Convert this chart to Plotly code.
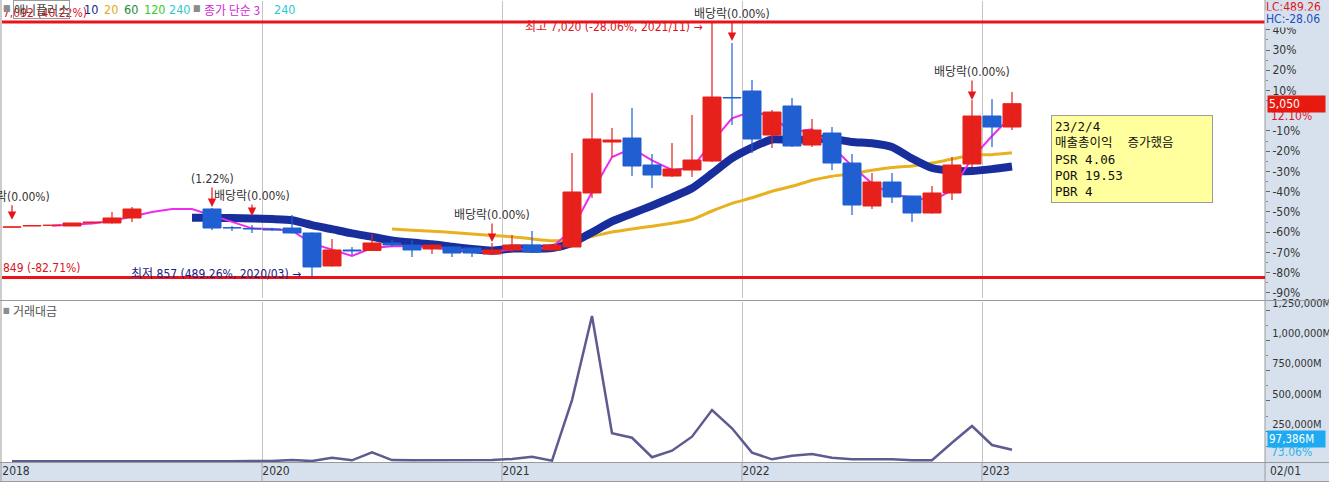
import pandas as pd
import plotly.graph_objects as go

# ---------------- data (monthly candles, 2018/12 .. 2023/02) ----------------
months = pd.date_range("2018-12-01", periods=51, freq="MS").strftime("%Y/%m").tolist()

open_p = [2070, 2100, 2115, 2100, 2180, 2172, 2293, None, None, None,
          2510, 2060, 2040, 2027, 2051, 1931, 1135, 1521, 1510, 1690,
          1641, 1545, 1593, 1569, 1424, 1521, 1641, 1521, 1593, 2896,
          4126, 4222, 3571, 3305, 3450, 3667, 5200, 5356, 4294, 4994,
          4053, 4343, 3619, 2582, 3161, 2823, 2413, 2896, 3595, 4753,
          4487]
high_p = [2080, 2115, 2120, 2180, 2200, 2437, 2558, None, None, None,
          2534, 2100, 2124, 2060, 2365, 1945, 1786, 1593, 1906, 1762,
          1762, 1650, 1600, 1569, 1690, 1882, 1979, 1660, 3860, 5307,
          4463, 4945, 3836, 4102, 4777, 7020, 6514, 5621, 4897, 5187,
          4680, 4487, 3836, 3378, 3378, 2830, 3064, 3764, 5139, 5163,
          5331]
low_p = [2070, 2095, 2112, 2095, 2175, 2160, 2196, None, None, None,
         2003, 1979, 1931, 1979, 1920, 857, 1120, 1400, 1497, 1593,
         1352, 1424, 1352, 1352, 1400, 1448, 1448, 1510, 1593, 2775,
         3764, 3305, 3016, 3281, 3281, 3643, 4536, 3860, 3981, 4005,
         4005, 3450, 2365, 2510, 2655, 2196, 2400, 2727, 3523, 4005,
         4415]
close_p = [2080, 2110, 2120, 2172, 2196, 2293, 2510, 2510, 2510, 2510,
           2051, 2051, 2027, 2003, 1931, 1111, 1521, 1497, 1690, 1641,
           1521, 1641, 1448, 1448, 1521, 1641, 1472, 1641, 2920, 4198,
           4174, 3547, 3330, 3474, 3691, 5211, 5187, 4198, 4849, 4029,
           4415, 3619, 2606, 3161, 2799, 2413, 2896, 3571, 4753, 4487,
           5050]
# 거래대금 (백만원)
value_m = [3000, 2500, 2000, 2500, 3000, 4000, 5000, 0, 0, 0,
           4000, 3000, 3500, 4000, 12000, 4000, 31000, 10000, 76000, 12000,
           10000, 9000, 11000, 12000, 12000, 21000, 40000, 7000, 507000, 1200000,
           233000, 196000, 35000, 89000, 205000, 425000, 274000, 73000, 18000, 48000,
           62000, 31000, 18000, 18000, 18000, 10000, 10000, 155000, 293000, 136000,
           97386]

year_labels = ["2018", "2020", "2021", "2022", "2023"]
pct_labels = [40, 30, 20, 10, -10, -20, -30, -40, -50, -60, -70, -80, -90]
pct_base = 4880
vol_tick_vals = [250000, 500000, 750000, 1000000, 1250000]

div_idx = [0, 10, 12, 24, 36, 48]
div_text = ["배당락(0.00%)", "(1.22%)", "배당락(0.00%)", "배당락(0.00%)",
            "배당락(0.00%)", "배당락(0.00%)"]

note_lines = ["23/2/4", "매출총이익  증가했음", "PSR 4.06", "POR 19.53", "PBR 4"]

# ---------------- geometry helpers ----------------
W, H = 1329, 482
ML, MR, MT, MB = 2, 64, 1, 20
PW, PH = W - ML - MR, H - MT - MB


def fx(px):
    return (px - ML) / PW


def fy(py):
    return (H - MB - py) / PH


KR = "Noto Sans CJK KR, sans-serif"
NUM = "Liberation Sans Narrow, DejaVu Sans Condensed, Noto Sans CJK KR, Liberation Sans, sans-serif"
RED = "#e6201a"
BLUE = "#1f5fd1"
PANEL = "#d7e1ee"
GRID = "#c4c4c4"

x_idx = list(range(len(months)))
s_close = pd.Series(close_p, dtype=float)
ma3 = s_close.rolling(3).mean()
ma10 = s_close.rolling(10).mean()
ma20 = s_close.rolling(20).mean()

x_range = [-0.5, 62.65]
y_range = [363, 7527]
vol_range = [-4100, 1316000]

year_pos = [next(i for i, m in enumerate(months) if m.startswith(y)) - 0.5 for y in year_labels]
pct_vals = [pct_base * (1 + p / 100) for p in pct_labels]
pct_text = [f"{p}%" for p in pct_labels]
pct_minor = [pct_base * (1 + (p - 5) / 100) for p in pct_labels] + [pct_base * 1.45]

max_high = max(h for h in high_p if h is not None)
min_low = min(v for v in low_p if v is not None)
i_max = high_p.index(max_high)
i_min = low_p.index(min_low)
last = close_p[-1]

fig = go.Figure()

# moving averages (base subplot, beneath candles)
fig.add_trace(go.Scatter(x=x_idx, y=ma20, mode="lines", hoverinfo="skip",
                         line=dict(color="#e8b120", width=3, shape="spline", smoothing=0.6),
                         xaxis="x", yaxis="y"))
fig.add_trace(go.Scatter(x=x_idx, y=ma10, mode="lines", hoverinfo="skip",
                         line=dict(color="#182e9c", width=8, shape="spline", smoothing=0.6),
                         xaxis="x", yaxis="y"))
fig.add_trace(go.Scatter(x=x_idx, y=ma3, mode="lines", hoverinfo="skip",
                         line=dict(color="#ee2cee", width=2),
                         xaxis="x", yaxis="y"))

# candles (overlay subplot, above the averages)
up = [i for i in x_idx if open_p[i] is not None and close_p[i] >= open_p[i]]
dn = [i for i in x_idx if open_p[i] is not None and close_p[i] < open_p[i]]
for grp, col in ((up, RED), (dn, BLUE)):
    wx, wy = [], []
    for i in grp:
        wx += [i, i, None]
        wy += [low_p[i], high_p[i], None]
    fig.add_trace(go.Bar(x=grp, y=[abs(close_p[i] - open_p[i]) for i in grp],
                         base=[min(open_p[i], close_p[i]) for i in grp], width=0.9,
                         marker=dict(color=col, line=dict(color=col, width=1)),
                         hoverinfo="skip", xaxis="x", yaxis="y3"))
    fig.add_trace(go.Scatter(x=wx, y=wy, mode="lines", hoverinfo="skip",
                             line=dict(color=col, width=1.2), xaxis="x", yaxis="y3"))

# trading value
fig.add_trace(go.Scatter(x=x_idx, y=value_m, mode="lines", hoverinfo="skip",
                         line=dict(color="#5d5b8f", width=2.5), xaxis="x2", yaxis="y2"))

shapes = [
    dict(type="rect", xref="paper", yref="paper", x0=fx(1265), x1=fx(1340), y0=fy(490), y1=fy(-5),
         fillcolor=PANEL, line=dict(width=0), layer="below"),
    dict(type="rect", xref="paper", yref="paper", x0=fx(-5), x1=fx(1340), y0=fy(490), y1=fy(463),
         fillcolor=PANEL, line=dict(width=0), layer="below"),
    dict(type="line", xref="paper", yref="paper", x0=fx(0), x1=fx(1340), y0=fy(300.5), y1=fy(300.5),
         line=dict(color="#9a9a9a", width=1)),
    dict(type="line", xref="paper", yref="paper", x0=fx(0), x1=fx(1340), y0=fy(462.5), y1=fy(462.5),
         line=dict(color="#9a9a9a", width=1)),
    dict(type="line", xref="paper", yref="paper", x0=fx(0), x1=fx(1340), y0=fy(481.5), y1=fy(481.5),
         line=dict(color="#9a9a9a", width=1)),
    dict(type="line", xref="paper", yref="paper", x0=fx(1265), x1=fx(1265), y0=fy(490), y1=fy(-5),
         line=dict(color="#9a9a9a", width=1)),
    dict(type="line", xref="paper", yref="paper", x0=fx(1), x1=fx(1), y0=fy(490), y1=fy(-5),
         line=dict(color="#9a9a9a", width=1)),
    dict(type="line", xref="paper", yref="y", x0=0, x1=1, y0=max_high, y1=max_high,
         line=dict(color="#e8141a", width=3)),
    dict(type="line", xref="paper", yref="y", x0=0, x1=1, y0=min_low, y1=min_low,
         line=dict(color="#e8141a", width=3)),
]
# year separators continuing through the date strip
for p in year_pos[1:]:
    shapes.append(dict(type="line", xref="x", yref="paper", x0=p, x1=p, y0=fy(482), y1=fy(462),
                       line=dict(color="#a8a8a8", width=1)))


def txt(text, px, py, color, size=12, family=NUM, xanchor="left", **kw):
    return dict(text=text, xref="paper", yref="paper", x=fx(px), y=fy(py), xanchor=xanchor,
                yanchor="middle", showarrow=False, font=dict(family=family, size=size, color=color), **kw)


ann = [
    txt("7,092 (40.22%)", 1, 13, "#d7141a"),
    txt("■", 7, 8, "#8c8c8c", size=9, xanchor="center"),
    txt("애니플러스", 13, 9, "#444444", family=KR, bordercolor="#9a9a9a", borderwidth=1, borderpad=0),
    txt("10", 82, 9, "#14288c", size=12.5),
    txt("20", 102, 9, "#e3a81e", size=12.5),
    txt("60", 122, 9, "#238a3c", size=12.5),
    txt("120", 142, 9, "#2ecc2e", size=12.5),
    txt("240", 167, 9, "#2ec8d0", size=12.5),
    txt("■", 197, 8, "#8c8c8c", size=9, xanchor="center"),
    txt("종가 단순 3", 202, 9, "#d22ad2", family=KR),
    txt("240", 272, 9, "#2ec8d0", size=12.5),
    txt("LC:489.26", 1264, 7, "#e0141c"),
    txt("HC:-28.06", 1264, 19, "#1c4fc0", bgcolor=PANEL),
    txt("849 (-82.71%)", 1, 268, "#d7141a"),
    txt("■", 6, 310, "#8c8c8c", size=8, xanchor="center"),
    txt("거래대금", 11, 310, "#555555", family=KR),
    txt("02/01", 1268, 471, "#333333"),
    dict(text=f"최고 {max_high:,} ({(last / max_high - 1) * 100:.2f}%, {months[i_max]}) →",
         x=i_max - 0.4, y=max_high, xref="x", yref="y", xanchor="right", yanchor="middle",
         yshift=-5, showarrow=False, font=dict(family=NUM, size=12, color="#e0141c")),
    dict(text=f"최저 {min_low:,} ({(last / min_low - 1) * 100:.2f}%, {months[i_min]}) →",
         x=i_min - 0.45, y=min_low, xref="x", yref="y", xanchor="right", yanchor="middle",
         yshift=4, showarrow=False, font=dict(family=NUM, size=12, color="#1a2280")),
    dict(text=f"{last:,}", xref="paper", yref="y", x=fx(1267), y=last, xanchor="left",
         yanchor="middle", showarrow=False, bgcolor="#e8190f", width=55, align="left",
         font=dict(family=NUM, size=12, color="white")),
    dict(text="12.10%", xref="paper", yref="y", x=fx(1269), y=last, yshift=-12, xanchor="left",
         yanchor="middle", showarrow=False, font=dict(family=NUM, size=12, color="#e0141c")),
    dict(text=f"{value_m[-1]:,}M", xref="paper", yref="y2", x=fx(1267), y=value_m[-1], yshift=11,
         xanchor="left", yanchor="middle", showarrow=False, bgcolor="#1eaaf0", width=55, align="left",
         font=dict(family=NUM, size=11.5, color="white")),
    dict(text="73.06%", xref="paper", yref="y2", x=fx(1269), y=value_m[-1], yshift=-2,
         xanchor="left", yanchor="middle", showarrow=False,
         font=dict(family=NUM, size=12, color="#2ab4e8")),
    dict(text="<br>".join(note_lines), xref="paper", yref="paper", x=fx(1051), y=fy(115),
         xanchor="left", yanchor="top", align="left", valign="top", showarrow=False,
         bgcolor="#ffff9e", bordercolor="#9c9c9c", borderwidth=1, borderpad=3, width=154,
         font=dict(family="DejaVu Sans Mono, Noto Sans CJK KR, monospace", size=12.5, color="#111111")),
]

div_shift = [7, 1, 9, 1, 2, 0]
div_ay = [-23, -28, -20, -27, -27, -28]
for i, t, ys, ay in zip(div_idx, div_text, div_shift, div_ay):
    ann.append(dict(x=i, y=high_p[i], xref="x", yref="y", yshift=ys, text=t, showarrow=True,
                    arrowhead=2, arrowsize=1.4, arrowwidth=1.2, arrowcolor="#e8141a",
                    ax=0, ay=ay, font=dict(family=NUM, size=12, color="#333333")))

tickfont = dict(family=NUM, size=12, color="#333333")

fig.update_layout(
    template="none",
    width=W, height=H, margin=dict(l=ML, r=MR, t=MT, b=MB, autoexpand=False),
    paper_bgcolor="white", plot_bgcolor="white", showlegend=False,
    barmode="overlay", bargap=0,
    xaxis=dict(domain=[0, 1], anchor="y", range=x_range, tickvals=year_pos, showticklabels=False,
               ticks="", showgrid=True, gridcolor=GRID, gridwidth=1, zeroline=False, showline=False,
               automargin=False),
    yaxis=dict(domain=[fy(298), 1], anchor="x", side="right", range=y_range, tickvals=pct_vals,
               ticktext=pct_text, ticks="outside", ticklen=4, tickcolor="#666666", showgrid=False,
               zeroline=False, showline=False, tickfont=tickfont, automargin=False,
               minor=dict(tickvals=pct_minor, ticks="outside", ticklen=2, tickcolor="#888888")),
    yaxis3=dict(overlaying="y", anchor="x", range=y_range, visible=False, automargin=False),
    xaxis2=dict(domain=[0, 1], anchor="y2", range=x_range, tickvals=year_pos, ticktext=year_labels,
                ticks="", showgrid=True, gridcolor=GRID, gridwidth=1, zeroline=False, showline=False,
                ticklabelshift=14, ticklabeloverflow="allow", tickfont=tickfont, automargin=False),
    yaxis2=dict(domain=[0, fy(302)], anchor="x2", side="right", range=vol_range,
                tickvals=vol_tick_vals, ticktext=[f"{v:,}M" for v in vol_tick_vals],
                ticks="outside", ticklen=4, tickcolor="#666666", showgrid=False, zeroline=False,
                showline=False, tickfont=dict(family=NUM, size=11, color="#333333"),
                ticklabelshift=-7, automargin=False,
                minor=dict(tickvals=[v - 125000 for v in vol_tick_vals], ticks="outside", ticklen=2,
                           tickcolor="#888888")),
    shapes=shapes,
    annotations=ann,
)

fig.write_html("out.html", config={"displayModeBar": False, "staticPlot": True},
               post_script="document.body.style.margin='0';document.body.style.overflow='hidden';")
